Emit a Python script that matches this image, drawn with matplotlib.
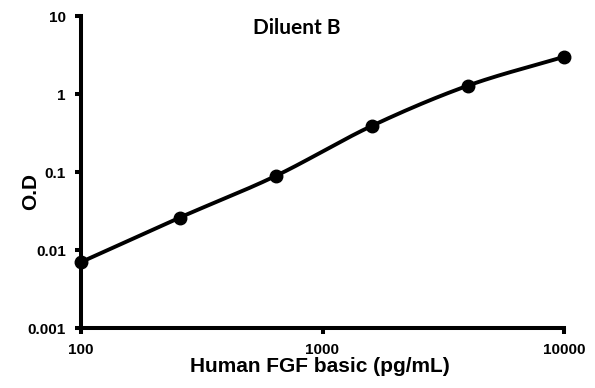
import numpy as np
import matplotlib
matplotlib.use('Agg')
import matplotlib.pyplot as plt

# standard curve, Diluent B
conc = [100, 256, 640, 1600, 4000, 10000]
od = [0.007, 0.026, 0.089, 0.39, 1.28, 3.0]
xticks = [100, 1000, 10000]
yticks = [0.001, 0.01, 0.1, 1, 10]


def smooth(xs, ys, n=30):
    # catmull-rom through the points in log space (like excel smoothed line)
    lx = np.log10(xs)
    ly = np.log10(ys)
    px = np.concatenate([[2 * lx[0] - lx[1]], lx, [2 * lx[-1] - lx[-2]]])
    py = np.concatenate([[2 * ly[0] - ly[1]], ly, [2 * ly[-1] - ly[-2]]])
    outx, outy = [], []
    t = np.linspace(0, 1, n)
    for i in range(1, len(px) - 2):
        for p, out in ((px, outx), (py, outy)):
            p0, p1, p2, p3 = p[i - 1], p[i], p[i + 1], p[i + 2]
            out.extend(0.5 * ((2 * p1) + (-p0 + p2) * t
                              + (2 * p0 - 5 * p1 + 4 * p2 - p3) * t ** 2
                              + (-p0 + 3 * p1 - 3 * p2 + p3) * t ** 3))
    return 10 ** np.array(outx), 10 ** np.array(outy)


plt.rcParams['font.family'] = ['Liberation Sans', 'DejaVu Sans']

fig = plt.figure(figsize=(5.95, 3.88), dpi=100)
ax = fig.add_axes([81 / 595, 1 - 328 / 388, 483 / 595, 312 / 388])

sx, sy = smooth(conc, od)
ax.plot(sx, sy, color='black', lw=2.8, clip_on=False, zorder=3)
ax.plot(conc, od, 'o', color='black', ms=9, clip_on=False, zorder=4)

ax.set_xscale('log')
ax.set_yscale('log')
ax.set_xlim(100, 10000)
ax.set_ylim(0.001, 10)
ax.set_xticks(xticks)
ax.set_xticklabels([str(v) for v in xticks])
ax.set_yticks(yticks)
ax.set_yticklabels(['0.001', '0.01', '0.1', '1', '10'])
ax.minorticks_off()

for s in ['top', 'right']:
    ax.spines[s].set_visible(False)
for s in ['left', 'bottom']:
    ax.spines[s].set_linewidth(2.9)
ax.tick_params(direction='out', length=4, width=2.9, pad=7, labelsize=11)
for lab in ax.get_xticklabels() + ax.get_yticklabels():
    lab.set_fontweight('bold')

fig.text(320 / 595, 1 - 366 / 388, 'Human FGF basic (pg/mL)', ha='center', va='center',
         fontsize=15, fontweight='bold')
fig.text(31 / 595, 1 - 192 / 388, 'O.D', ha='center', va='center', rotation=90,
         fontsize=15, fontweight='bold')
fig.text(297 / 595, 1 - 28 / 388, 'Diluent B', ha='center', va='center',
         fontsize=15, fontweight='bold', family=['Lato', 'DejaVu Sans'])

fig.savefig('out.png', dpi=100)
